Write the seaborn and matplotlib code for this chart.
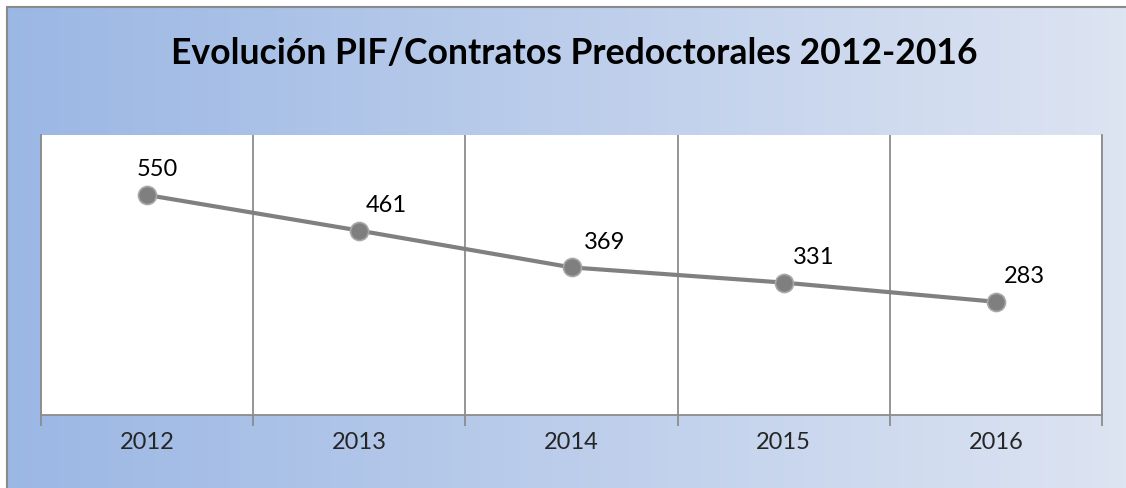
import numpy as np
import pandas as pd
import matplotlib
matplotlib.use("Agg")
import matplotlib.pyplot as plt
import seaborn as sns
from matplotlib.colors import LinearSegmentedColormap

# --- datos ---
years = ["2012", "2013", "2014", "2015", "2016"]
contratos = [550, 461, 369, 331, 283]
title = "Evolución PIF/Contratos Predoctorales 2012-2016"

# desplazamiento de las etiquetas (px)
label_dx = [10, 27, 33, 30, 29]
label_dy = 25

sns.set_theme(style="white")
plt.rcParams['font.family'] = ['Lato', 'DejaVu Sans']

df = pd.DataFrame({"Año": years, "Contratos": contratos})

W, H, DPI = 1126, 488, 100
fig = plt.figure(figsize=(W / DPI, H / DPI), dpi=DPI)
fig.patch.set_facecolor("white")

# fondo con degradado
bg = fig.add_axes([7 / W, 0, 1 - 7 / W, 1 - 7 / H], zorder=0)
cmap = LinearSegmentedColormap.from_list("bg", ["#9bb7e4", "#dde4f2"])
bg.imshow(np.linspace(0, 1, 256)[None, :], aspect="auto", cmap=cmap,
          extent=[0, 1, 0, 1])
bg.set_xlim(0, 1)
bg.set_ylim(0, 1)
bg.axis("off")
fig.add_artist(plt.Line2D([7 / W, 7 / W], [0, 1 - 7 / H], color="#8a8a8a", lw=1.5))
fig.add_artist(plt.Line2D([7 / W, 1], [1 - 7 / H, 1 - 7 / H], color="#8a8a8a", lw=1.5))

# area de trazado
ax = fig.add_axes([41 / W, (H - 415) / H, (1102 - 41) / W, (415 - 135) / H], zorder=1)
ax.set_facecolor("white")

sns.lineplot(data=df, x="Año", y="Contratos", ax=ax, color="#808080",
             linewidth=3, marker="o", markersize=13,
             markerfacecolor="#7f7f7f", markeredgecolor="#a8a8a8",
             markeredgewidth=1.2, zorder=3)

ax.set_xlim(-0.5, len(years) - 0.5)
ax.set_ylim(0, 700)
ax.set_yticks([])
ax.set_xlabel("")
ax.set_ylabel("")

ax.set_xticks(range(len(years)))
ax.set_xticklabels(years, fontsize=17)
ax.tick_params(axis="x", which="major", length=0, pad=12)
ax.set_xticks(np.arange(-0.5, len(years), 1.0), minor=True)
ax.tick_params(axis="x", which="minor", length=8, width=1.3, color="#8c8c8c",
               direction="out", bottom=True)
ax.grid(True, axis="x", which="minor", color="#8c8c8c", linewidth=1.3)
ax.grid(False, axis="x", which="major")

for side in ["left", "right", "bottom"]:
    ax.spines[side].set_color("#8c8c8c")
    ax.spines[side].set_linewidth(1.3)
ax.spines["top"].set_visible(False)

for i, v in enumerate(contratos):
    ax.annotate(str(v), (i, v), xytext=(label_dx[i] * 0.72, label_dy * 0.72),
                textcoords="offset points", ha="center", va="center",
                fontsize=17, color="black")

fig.text(574 / W, 1 - 53 / H, title, ha="center", va="center",
         fontsize=25.6, fontweight="bold", color="black")

fig.savefig("out.png", dpi=DPI)
